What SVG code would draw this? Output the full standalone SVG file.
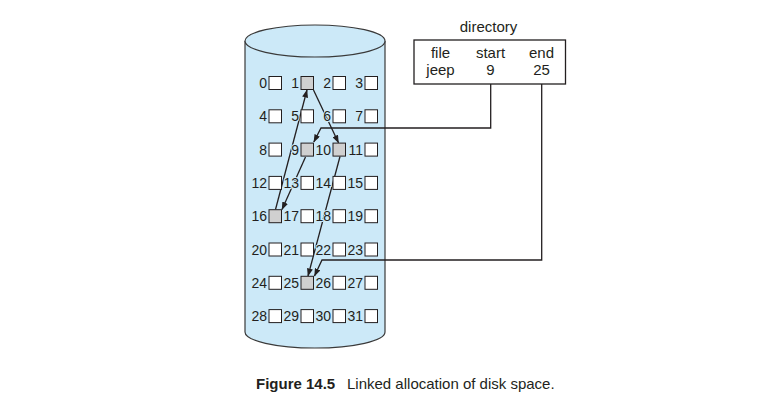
<svg xmlns="http://www.w3.org/2000/svg" width="783" height="409" viewBox="0 0 783 409">
<style>
text{font-family:"Liberation Sans",Arial,sans-serif;fill:#231f20}
.lbl{font-size:14px;text-anchor:end;stroke:#cce9f8;stroke-width:2;paint-order:stroke}
.dir{font-size:15px;text-anchor:middle}
.blk{fill:#fff;stroke:#231f20;stroke-width:1}
.used{fill:#d0d0d0;stroke:#231f20;stroke-width:1}
.cyl{fill:#cce9f8;stroke:#3a3a3a;stroke-width:1.2}
.con{fill:none;stroke:#231f20;stroke-width:1.3}
.box{fill:#fff;stroke:#231f20;stroke-width:1.3}
</style>
<defs>
<marker id="ah" markerWidth="8" markerHeight="6" refX="7.5" refY="3" orient="auto" markerUnits="userSpaceOnUse">
<path d="M0,0 L8,3 L0,6 Z" fill="#231f20"/>
</marker>
</defs>
<g id="disk">
<path class="cyl" d="M245,41 V332 A70,16 0 0 0 385,332 V41"/>
<ellipse class="cyl" cx="315" cy="41" rx="70" ry="16"/>
</g>
<g id="connectors">
<path class="con" d="M490.7,84 V128 H321 L313.8,142" marker-end="url(#ah)"/>
<path class="con" d="M305.5,157 L282,209.5" marker-end="url(#ah)"/>
<path class="con" d="M275.5,209.5 L307,90" marker-end="url(#ah)"/>
<path class="con" d="M313.5,90 L338.5,142.8" marker-end="url(#ah)"/>
<path class="con" d="M340,156.5 L308,276" marker-end="url(#ah)"/>
<path class="con" d="M541.7,84 V260 H322 L314.5,276" marker-end="url(#ah)"/>
</g>
<g id="block-0"><rect class="blk" x="269" y="76.5" width="12.5" height="13"/><text class="lbl" x="267" y="88">0</text></g>
<g id="block-1"><rect class="used" x="301" y="76.5" width="12.5" height="13"/><text class="lbl" x="299" y="88">1</text></g>
<g id="block-2"><rect class="blk" x="333" y="76.5" width="12.5" height="13"/><text class="lbl" x="331" y="88">2</text></g>
<g id="block-3"><rect class="blk" x="365" y="76.5" width="12.5" height="13"/><text class="lbl" x="363" y="88">3</text></g>
<g id="block-4"><rect class="blk" x="269" y="109.8" width="12.5" height="13"/><text class="lbl" x="267" y="121.3">4</text></g>
<g id="block-5"><rect class="blk" x="301" y="109.8" width="12.5" height="13"/><text class="lbl" x="299" y="121.3">5</text></g>
<g id="block-6"><rect class="blk" x="333" y="109.8" width="12.5" height="13"/><text class="lbl" x="331" y="121.3">6</text></g>
<g id="block-7"><rect class="blk" x="365" y="109.8" width="12.5" height="13"/><text class="lbl" x="363" y="121.3">7</text></g>
<g id="block-8"><rect class="blk" x="269" y="143.1" width="12.5" height="13"/><text class="lbl" x="267" y="154.6">8</text></g>
<g id="block-9"><rect class="used" x="301" y="143.1" width="12.5" height="13"/><text class="lbl" x="299" y="154.6">9</text></g>
<g id="block-10"><rect class="used" x="333" y="143.1" width="12.5" height="13"/><text class="lbl" x="331" y="154.6">10</text></g>
<g id="block-11"><rect class="blk" x="365" y="143.1" width="12.5" height="13"/><text class="lbl" x="363" y="154.6">11</text></g>
<g id="block-12"><rect class="blk" x="269" y="176.4" width="12.5" height="13"/><text class="lbl" x="267" y="187.9">12</text></g>
<g id="block-13"><rect class="blk" x="301" y="176.4" width="12.5" height="13"/><text class="lbl" x="299" y="187.9">13</text></g>
<g id="block-14"><rect class="blk" x="333" y="176.4" width="12.5" height="13"/><text class="lbl" x="331" y="187.9">14</text></g>
<g id="block-15"><rect class="blk" x="365" y="176.4" width="12.5" height="13"/><text class="lbl" x="363" y="187.9">15</text></g>
<g id="block-16"><rect class="used" x="269" y="209.7" width="12.5" height="13"/><text class="lbl" x="267" y="221.2">16</text></g>
<g id="block-17"><rect class="blk" x="301" y="209.7" width="12.5" height="13"/><text class="lbl" x="299" y="221.2">17</text></g>
<g id="block-18"><rect class="blk" x="333" y="209.7" width="12.5" height="13"/><text class="lbl" x="331" y="221.2">18</text></g>
<g id="block-19"><rect class="blk" x="365" y="209.7" width="12.5" height="13"/><text class="lbl" x="363" y="221.2">19</text></g>
<g id="block-20"><rect class="blk" x="269" y="243" width="12.5" height="13"/><text class="lbl" x="267" y="254.5">20</text></g>
<g id="block-21"><rect class="blk" x="301" y="243" width="12.5" height="13"/><text class="lbl" x="299" y="254.5">21</text></g>
<g id="block-22"><rect class="blk" x="333" y="243" width="12.5" height="13"/><text class="lbl" x="331" y="254.5">22</text></g>
<g id="block-23"><rect class="blk" x="365" y="243" width="12.5" height="13"/><text class="lbl" x="363" y="254.5">23</text></g>
<g id="block-24"><rect class="blk" x="269" y="276.3" width="12.5" height="13"/><text class="lbl" x="267" y="287.8">24</text></g>
<g id="block-25"><rect class="used" x="301" y="276.3" width="12.5" height="13"/><text class="lbl" x="299" y="287.8">25</text></g>
<g id="block-26"><rect class="blk" x="333" y="276.3" width="12.5" height="13"/><text class="lbl" x="331" y="287.8">26</text></g>
<g id="block-27"><rect class="blk" x="365" y="276.3" width="12.5" height="13"/><text class="lbl" x="363" y="287.8">27</text></g>
<g id="block-28"><rect class="blk" x="269" y="309.6" width="12.5" height="13"/><text class="lbl" x="267" y="321.1">28</text></g>
<g id="block-29"><rect class="blk" x="301" y="309.6" width="12.5" height="13"/><text class="lbl" x="299" y="321.1">29</text></g>
<g id="block-30"><rect class="blk" x="333" y="309.6" width="12.5" height="13"/><text class="lbl" x="331" y="321.1">30</text></g>
<g id="block-31"><rect class="blk" x="365" y="309.6" width="12.5" height="13"/><text class="lbl" x="363" y="321.1">31</text></g>
<g id="directory">
<text class="dir" x="488.5" y="32">directory</text>
<rect class="box" x="414" y="40" width="151.5" height="44"/>
<text class="dir" x="440.5" y="58">file</text>
<text class="dir" x="440.5" y="75">jeep</text>
<text class="dir" x="490.5" y="58">start</text>
<text class="dir" x="490.5" y="75">9</text>
<text class="dir" x="541.5" y="58">end</text>
<text class="dir" x="541.5" y="75">25</text>
</g>
<g id="caption">
<text x="256" y="389" style="font-size:15px;font-weight:bold">Figure 14.5</text>
<text x="347" y="389" style="font-size:15px">Linked allocation of disk space.</text>
</g>
</svg>
